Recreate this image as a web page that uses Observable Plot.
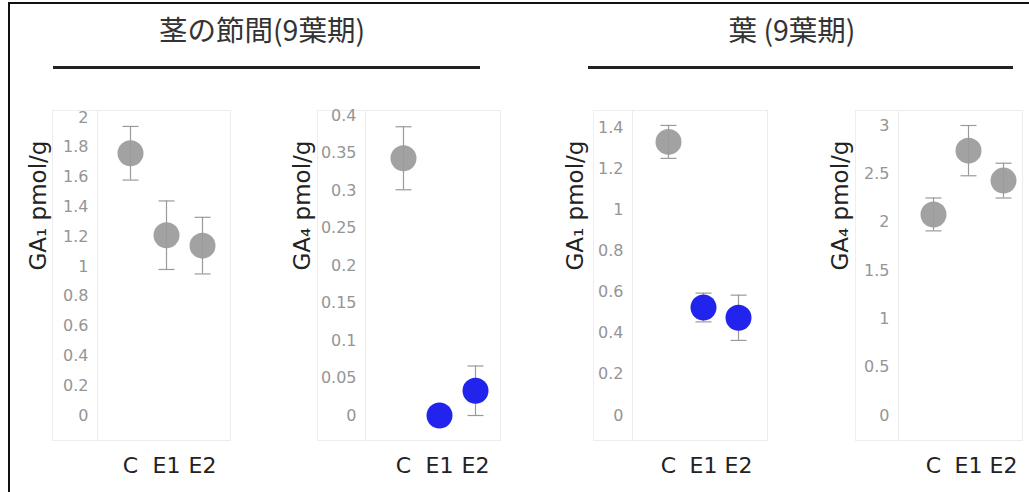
<!DOCTYPE html>
<html><head><meta charset="utf-8">
<script src="https://cdn.jsdelivr.net/npm/d3@7"></script>
<script src="https://cdn.jsdelivr.net/npm/@observablehq/plot@0.6"></script>
<style>
html,body{margin:0;padding:0;background:#fff;}
#root{position:relative;width:1029px;height:492px;overflow:hidden;font-family:"DejaVu Sans","Noto Sans CJK JP",sans-serif;}
.border{position:absolute;left:8px;top:2px;width:1100px;height:600px;border-left:2px solid #111;border-top:2px solid #111;}
.title{position:absolute;top:13px;line-height:32px;font-family:"Noto Sans CJK JP",sans-serif;font-size:28.5px;color:#333;transform:translateX(-50%);white-space:nowrap;}
.rule{position:absolute;top:66px;height:3px;background:#222;}
.outer{position:absolute;border:1px solid #eee;box-sizing:border-box;}
.panel{position:absolute;top:100px;}
</style></head><body><div id="root"><div class="border"></div></div>
<script>
// ---- data ----
const groups = ["C", "E1", "E2"];
const titles = ["茎の節間(9葉期)", "葉 (9葉期)"];

const stemGA1 = [1.76, 1.21, 1.14];
const stemGA1Err = [0.18, 0.23, 0.19];
const stemGA1Sig = [false, false, false];

const stemGA4 = [0.343, 0.0, 0.033];
const stemGA4Err = [0.042, 0.0, 0.033];
const stemGA4Sig = [false, true, true];

const leafGA1 = [1.33, 0.525, 0.475];
const leafGA1Err = [0.08, 0.07, 0.11];
const leafGA1Sig = [false, true, true];

const leafGA4 = [2.08, 2.74, 2.43];
const leafGA4Err = [0.17, 0.26, 0.18];
const leafGA4Sig = [false, false, false];

const ticksStemGA1 = [0, 0.2, 0.4, 0.6, 0.8, 1, 1.2, 1.4, 1.6, 1.8, 2];
const ticksStemGA4 = [0, 0.05, 0.1, 0.15, 0.2, 0.25, 0.3, 0.35, 0.4];
const ticksLeafGA1 = [0, 0.2, 0.4, 0.6, 0.8, 1, 1.2, 1.4];
const ticksLeafGA4 = [0, 0.5, 1, 1.5, 2, 2.5, 3];

const labelGA1 = "GA₁ pmol/g";
const labelGA4 = "GA₄ pmol/g";

// ---- layout ----
const root = document.getElementById("root");
function addDiv(cls, style, text) {
  const d = document.createElement("div");
  d.className = cls;
  Object.assign(d.style, style);
  if (text) d.textContent = text;
  root.appendChild(d);
  return d;
}
addDiv("title", {left: "262px"}, titles[0]);
addDiv("title", {left: "792px"}, titles[1]);
addDiv("rule", {left: "53px", width: "427px"});
addDiv("rule", {left: "588px", width: "425px"});

const capSymbol = {
  draw(ctx, size) {
    const w = Math.sqrt(size / Math.PI);
    ctx.moveTo(-w, 0);
    ctx.lineTo(w, 0);
  }
};

function panel(cfg) {
  const data = groups.map((g, i) => ({g, v: cfg.values[i], e: cfg.errs[i], sig: cfg.sig[i]}));
  const caps = data.filter(d => d.e > 0).flatMap(d => [{g: d.g, y: d.v - d.e}, {g: d.g, y: d.v + d.e}]);
  const L = cfg.svgLeft, T = 100;
  addDiv("outer", {left: cfg.outerLeft + "px", top: "110px", width: (cfg.right - cfg.outerLeft + 1) + "px", height: "331px"});
  const plot = Plot.plot({
    width: cfg.right + 5 - L,
    height: 385,
    marginLeft: cfg.innerLeft - L,
    marginRight: 5,
    marginTop: 10,
    marginBottom: 45,
    x: {type: "point", domain: groups, range: [cfg.x0 - L, cfg.x2 - L], padding: 0},
    y: {domain: [0, cfg.topVal], range: [415 - T, cfg.topPx - T]},
    color: {type: "identity"},
    style: {fontFamily: "DejaVu Sans, sans-serif", fontSize: "16px", background: "transparent", overflow: "visible"},
    marks: [
      Plot.frame({stroke: "#ececec"}),
      Plot.axisY({ticks: cfg.ticks, tickSize: 0, tickPadding: 9, tickFormat: d => String(d), fill: "#959595", fontSize: 16, label: null}),
      Plot.axisX({tickSize: 0, tickPadding: 17, fontSize: 22, fill: "#222", label: null}),
      Plot.ruleX(data.filter(d => d.e > 0), {x: "g", y1: d => d.v - d.e, y2: d => d.v + d.e, stroke: "#9a9a9a", strokeWidth: 1.2}),
      Plot.dot(caps, {x: "g", y: "y", symbol: capSymbol, r: 8, stroke: "#9a9a9a", strokeWidth: 1.2, fill: "none"}),
      Plot.dot(data, {x: "g", y: "v", r: 13, fill: d => d.sig ? "#2323ee" : "#9a9a9a", fillOpacity: d => d.sig ? 1 : 0.92, stroke: "none"}),
      Plot.text([cfg.label], {frameAnchor: "left", dx: cfg.labelX - cfg.innerLeft, dy: -5, rotate: -90, fontSize: 23, fill: "#222", text: d => d})
    ]
  });
  plot.classList.add("panel");
  plot.style.position = "absolute";
  plot.style.left = L + "px";
  plot.style.top = T + "px";
  root.appendChild(plot);
}

panel({values: stemGA1, errs: stemGA1Err, sig: stemGA1Sig, ticks: ticksStemGA1, label: labelGA1,
  svgLeft: 14, outerLeft: 52, innerLeft: 97, right: 230, x0: 130, x2: 202, topVal: 2, topPx: 117, labelX: 38});
panel({values: stemGA4, errs: stemGA4Err, sig: stemGA4Sig, ticks: ticksStemGA4, label: labelGA4,
  svgLeft: 278, outerLeft: 317, innerLeft: 365, right: 500, x0: 402, x2: 475, topVal: 0.4, topPx: 115, labelX: 302});
panel({values: leafGA1, errs: leafGA1Err, sig: leafGA1Sig, ticks: ticksLeafGA1, label: labelGA1,
  svgLeft: 551, outerLeft: 593, innerLeft: 632, right: 767, x0: 667, x2: 738, topVal: 1.4, topPx: 127, labelX: 575});
panel({values: leafGA4, errs: leafGA4Err, sig: leafGA4Sig, ticks: ticksLeafGA4, label: labelGA4,
  svgLeft: 816, outerLeft: 855, innerLeft: 898, right: 1022, x0: 932, x2: 1003, topVal: 3, topPx: 125, labelX: 840});
</script>
</body></html>
